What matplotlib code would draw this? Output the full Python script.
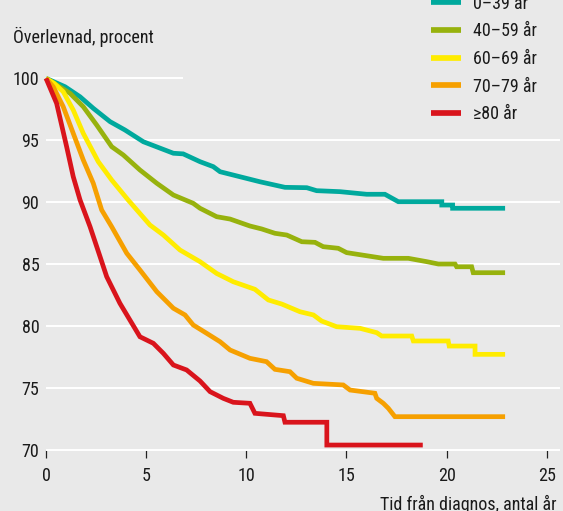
import os
import matplotlib
matplotlib.use("Agg")
import matplotlib.pyplot as plt
from matplotlib.lines import Line2D
from matplotlib import font_manager
from matplotlib.font_manager import FontProperties

# ---------------- data ----------------
labels = ["0–39 år", "40–59 år", "60–69 år", "70–79 år", "≥80 år"]
colors = ["#00a99d", "#97b20d", "#ffec00", "#f6a000", "#d9141c"]

t_0_39 = [0, 0.95, 1.70, 2.36, 3.20, 3.94, 4.86, 6.36, 6.85, 7.69, 8.35, 8.69, 10.68,
          11.93, 13.02, 13.51, 14.68, 16.01, 16.92, 17.59, 19.76, 19.76, 20.3, 20.3, 22.92]
v_0_39 = [100, 99.32, 98.51, 97.58, 96.50, 95.83, 94.88, 93.95, 93.9, 93.27, 92.87, 92.46, 91.65,
          91.2, 91.17, 90.93, 90.85, 90.64, 90.64, 90.04, 90.04, 89.77, 89.77, 89.51, 89.51]

t_40_59 = [0, 0.6, 1.20, 1.86, 2.53, 3.28, 3.86, 4.69, 5.53, 6.36, 7.35, 7.69, 8.52, 9.19,
           10.18, 10.77, 11.43, 12.02, 12.77, 13.43, 13.84, 14.59, 15.01, 16.84, 18.09,
           19.01, 19.59, 20.42, 20.50, 21.25, 21.33, 22.92]
v_40_59 = [100, 99.4, 98.79, 97.71, 96.23, 94.48, 93.81, 92.60, 91.53, 90.58, 89.91, 89.51, 88.83, 88.64,
           88.08, 87.84, 87.49, 87.35, 86.81, 86.76, 86.41, 86.28, 85.93, 85.47, 85.47,
           85.20, 85.01, 85.01, 84.79, 84.79, 84.31, 84.31]

t_60_69 = [0, 0.4, 0.86, 1.36, 1.86, 2.61, 3.28, 4.1, 5.19, 5.86, 6.69, 7.69, 8.52, 9.35,
           10.43, 11.10, 11.77, 12.68, 13.35, 13.76, 14.51, 15.68, 16.51, 16.76, 18.26,
           18.34, 20.08, 20.13, 21.42, 21.42, 22.92]
v_60_69 = [100, 99.6, 98.92, 97.44, 95.56, 93.27, 91.79, 90.18, 88.16, 87.35, 86.14, 85.20, 84.25, 83.58,
           82.97, 82.11, 81.78, 81.16, 80.90, 80.41, 79.95, 79.82, 79.47, 79.20, 79.20,
           78.80, 78.80, 78.39, 78.39, 77.72, 77.72]

t_70_79 = [0, 0.36, 0.86, 1.36, 1.86, 2.36, 2.78, 3.28, 4.03, 4.69, 5.53, 6.36, 6.94, 7.35,
           8.02, 8.69, 9.19, 10.18, 11.01, 11.43, 12.18, 12.52, 13.35, 14.84, 15.18, 16.42,
           16.51, 16.84, 17.09, 17.42, 22.92]
v_70_79 = [100, 99.32, 97.71, 95.56, 93.41, 91.53, 89.37, 88.02, 85.88, 84.53, 82.78, 81.44, 80.90, 80.09,
           79.42, 78.74, 78.07, 77.40, 77.13, 76.51, 76.32, 75.79, 75.38, 75.25, 74.84, 74.58,
           74.17, 73.77, 73.37, 72.69, 72.69]

t_80 = [0, 0.53, 1.03, 1.36, 1.70, 2.20, 2.70, 3.03, 3.69, 4.19, 4.69, 5.36, 5.86, 6.36,
        7.02, 7.69, 8.19, 8.85, 9.35, 10.18, 10.43, 11.85, 11.93, 14.02, 14.02, 18.81]
v_80 = [100, 97.98, 94.48, 92.06, 90.18, 88.02, 85.60, 83.99, 81.84, 80.49, 79.14, 78.61, 77.80, 76.86,
        76.46, 75.57, 74.71, 74.17, 73.85, 73.77, 72.96, 72.77, 72.24, 72.24, 70.40, 70.40]

series_t = [t_0_39, t_40_59, t_60_69, t_70_79, t_80]
series_v = [v_0_39, v_40_59, v_60_69, v_70_79, v_80]

xticks = [0, 5, 10, 15, 20, 25]
yticks = [70, 75, 80, 85, 90, 95, 100]
ylabel = "Överlevnad, procent"
xlabel = "Tid från diagnos, antal år"

# ---------------- style ----------------
W, H = 563, 511
bg = "#e9e9e9"
txtc = "#1a1a1a"


def pick_font():
    fl = font_manager.fontManager.ttflist
    names = {f.name for f in fl}
    for n in ["Liberation Sans Narrow", "Roboto Condensed", "Open Sans Condensed",
              "Noto Sans Condensed", "Archivo Narrow"]:
        if n in names:
            return dict(family=[n, "DejaVu Sans"])
    if any("dejavusanscondensed" in os.path.basename(f.fname).lower() for f in fl):
        return dict(family=["DejaVu Sans"], stretch="condensed")
    return dict(family=["Liberation Sans", "DejaVu Sans"])


fkw = pick_font()


def fx(x):
    return x / W


def fy(y):
    return 1 - y / H


fig = plt.figure(figsize=(W / 100, H / 100), dpi=100, facecolor=bg)

# size the font so that the y-label is as wide as in the reference (about 141 px)
probe = fig.text(0, 0, ylabel, fontproperties=FontProperties(size=10, **fkw))
fig.canvas.draw()
wprobe = probe.get_window_extent().width
probe.remove()
fs = min(13.7, 10 * 140.7 / wprobe)
fp = FontProperties(size=fs, **fkw)

ax = fig.add_axes([fx(46), fy(450), (560 - 46) / W, (450 - 78.3) / H])
ax.set_facecolor(bg)
for s in ax.spines.values():
    s.set_visible(False)

xmax = (560 - 46) / 20.03
ax.set_xlim(0, xmax)
ax.set_ylim(70, 100)

# gridlines
ax.hlines(yticks[:-1], 0, xmax, color="white", lw=1.4, zorder=3, clip_on=False)
ax.hlines([100], 0, 6.82, color="white", lw=1.4, zorder=3, clip_on=False)

for t, v, c in zip(series_t, series_v, colors):
    ax.plot(t, v, color=c, lw=3.4, solid_capstyle="butt", solid_joinstyle="miter",
            zorder=4, clip_on=False)

ax.set_xticks(xticks)
ax.set_xticklabels([str(x) for x in xticks])
ax.set_yticks(yticks)
ax.set_yticklabels([str(y) for y in yticks])
ax.tick_params(axis="x", length=6, width=0.9, color="#222222", direction="out", pad=6,
               labelcolor=txtc)
ax.tick_params(axis="y", length=0, pad=4.8, labelcolor=txtc)
for lbl in ax.get_xticklabels() + ax.get_yticklabels():
    lbl.set_fontproperties(fp)

fig.text(fx(12.7), fy(42.7), ylabel, ha="left", va="baseline", fontproperties=fp, color=txtc)
fig.text(fx(556.7), fy(510), xlabel, ha="right", va="baseline", fontproperties=fp, color=txtc)

# legend
row_c = [2.5, 30.1, 57.7, 85.3, 112.9]
for lab, c, yc in zip(labels, colors, row_c):
    fig.add_artist(Line2D([fx(431), fx(460.7)], [fy(yc), fy(yc)], lw=4.1, color=c,
                          solid_capstyle="butt", transform=fig.transFigure))
    fig.text(fx(473.3), fy(yc + 6.2), lab, ha="left", va="baseline", fontproperties=fp,
             color=txtc)

fig.savefig("out.png", dpi=100, facecolor=bg)
